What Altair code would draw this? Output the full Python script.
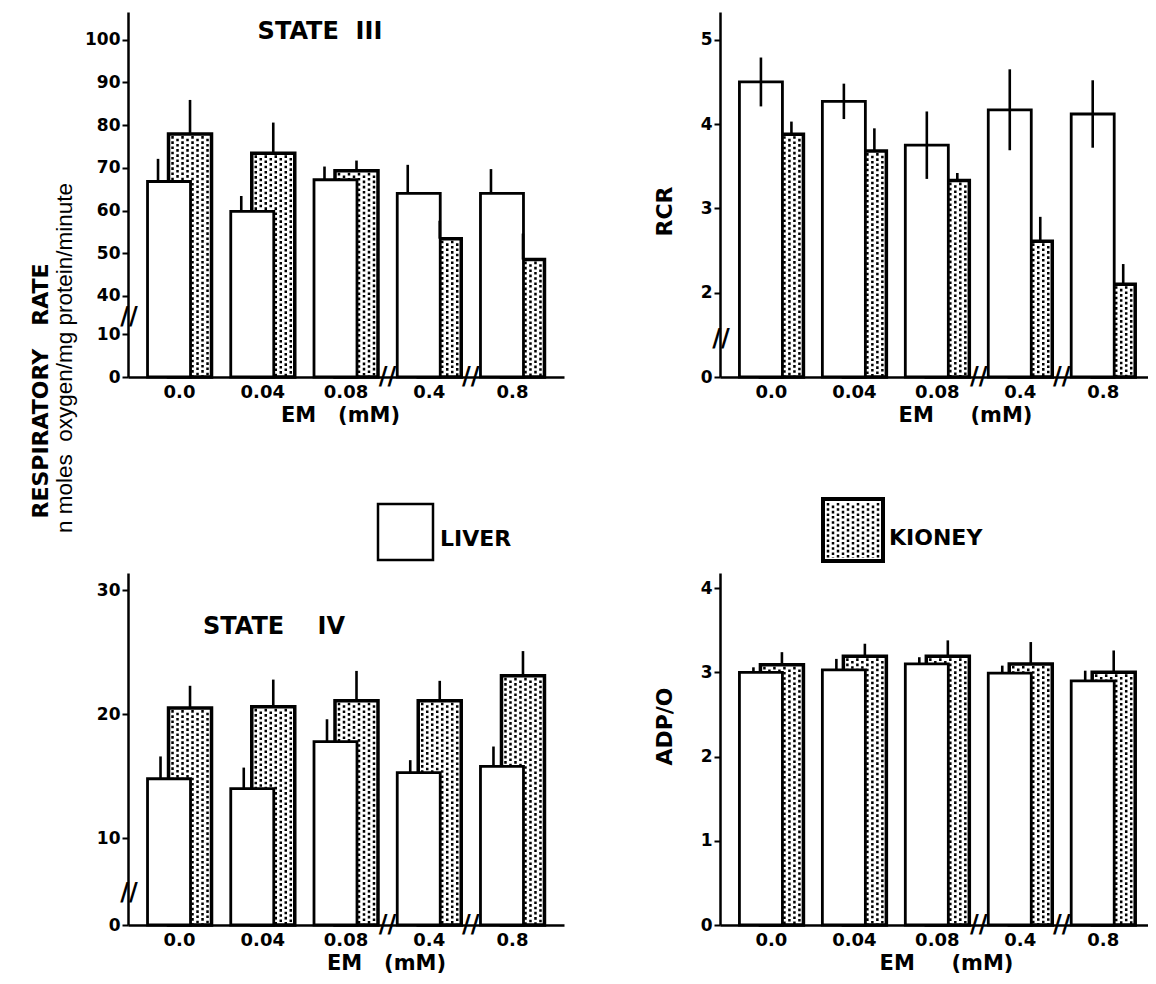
import altair as alt
import pandas as pd

NB = "\u00a0"

# ---------------- data ----------------
em_labels = ["0.0", "0.04", "0.08", "0.4", "0.8"]
x_breaks = ["0.4", "0.8"]

s3_liver = [66.8, 59.8, 67.2, 64.0, 64.0]
s3_liver_err = [5.3, 3.6, 3.1, 6.7, 5.7]
s3_kidney = [77.9, 73.4, 69.3, 53.4, 48.5]
s3_kidney_err = [8.0, 7.2, 2.4, 4.2, 6.1]

rcr_liver = [4.50, 4.27, 3.75, 4.17, 4.12]
rcr_liver_err = [0.29, 0.21, 0.40, 0.48, 0.40]
rcr_kidney = [3.88, 3.68, 3.33, 2.61, 2.10]
rcr_kidney_err = [0.15, 0.27, 0.09, 0.29, 0.24]

s4_liver = [14.8, 14.0, 17.8, 15.3, 15.8]
s4_liver_err = [1.8, 1.7, 1.8, 1.0, 1.6]
s4_kidney = [20.5, 20.6, 21.1, 21.1, 23.1]
s4_kidney_err = [1.8, 2.2, 2.4, 1.6, 2.0]

adp_liver = [3.00, 3.03, 3.10, 2.99, 2.90]
adp_liver_err = [0.06, 0.13, 0.08, 0.09, 0.12]
adp_kidney = [3.09, 3.19, 3.19, 3.10, 3.00]
adp_kidney_err = [0.15, 0.15, 0.19, 0.26, 0.26]

panel_titles = ["STATE" + NB * 2 + "III", "STATE" + NB * 4 + "IV"]
series_names = ["LIVER", "KIONEY"]
left_title = "RESPIRATORY" + NB * 3 + "RATE"
left_subtitle = "n moles" + NB * 2 + "oxygen/mg protein/minute"
x_title_left = "EM" + NB * 3 + "(mM)"
x_title_right = "EM" + NB * 5 + "(mM)"

FONT = "DejaVu Sans"
BAR_W = 43
HALF = 10.5
DOT_OFFSETS = [-7.0, -2.0, 3.0, 8.0, 13.0, 18.0, 23.0, 28.0]
NO_VIEW = alt.ViewBackground(strokeWidth=0, stroke="transparent")


def make_panel(liver, liver_err, kidney, kidney_err, *, width, height, top, thr, off,
               tick_vals, ytitle, xtitle, xtitle_x, ybreak_at, pad_outer, align,
               two_sided=False, liver_err_dx=-21.0, kidney_err_dx=10.5, ytitle_xy=None):
    df = pd.DataFrame({"em": em_labels, "liver": liver, "liver_err": liver_err,
                       "kidney": kidney, "kidney_err": kidney_err})

    def tf(e):
        return f"({e}) > {thr} ? ({e}) - {off} : ({e})"

    lo = "datum.liver - datum.liver_err" if two_sided else "datum.liver"
    base = alt.Chart(df).transform_calculate(
        lt=tf("datum.liver"), kt=tf("datum.kidney"),
        llo=tf(lo), lhi=tf("datum.liver + datum.liver_err"),
        khi=tf("datum.kidney + datum.kidney_err"))

    xaxis = alt.Axis(title=xtitle, labelAngle=0, ticks=False, tickSize=0,
                     domainWidth=2.5, domainColor="black", labelFont=FONT,
                     labelFontSize=18, labelFontWeight="bold", labelColor="black",
                     labelPadding=6, titleFont=FONT, titleFontSize=21,
                     titleFontWeight="bold", titleColor="black", titlePadding=3,
                     titleX=xtitle_x, zindex=1)
    xs = alt.Scale(domain=em_labels, paddingInner=0, paddingOuter=pad_outer, align=align)

    ykw = dict(values=tick_vals,
               labelExpr=f"datum.value > {thr} ? datum.value + {off} : datum.value",
               grid=False, tickSize=6, tickWidth=2, tickColor="black",
               domainWidth=2.5, domainColor="black", labelFont=FONT,
               labelFontSize=17, labelFontWeight="bold", labelColor="black",
               labelPadding=2, zindex=1)
    if ytitle:
        ykw.update(title=ytitle, titleFont=FONT, titleFontSize=22,
                   titleFontWeight="bold", titleColor="black",
                   titleX=ytitle_xy[0], titleY=ytitle_xy[1])
    else:
        ykw.update(title=None)
    yaxis = alt.Axis(**ykw)
    ys = alt.Scale(domain=[0, top], nice=False, zero=True)

    def X():
        return alt.X("em:N", scale=xs, axis=xaxis)

    def Y(f):
        return alt.Y(f"{f}:Q", scale=ys, axis=yaxis)

    layers = []
    layers.append(base.mark_bar(width=BAR_W, xOffset=HALF, fill="white", stroke="black",
                                strokeWidth=3.5).encode(x=X(), y=Y("kt")))
    for i, dx in enumerate(DOT_OFFSETS):
        layers.append(base.mark_rule(xOffset=dx, yOffset=2, strokeDash=[2.6, 2.6],
                                     strokeDashOffset=0 if i % 2 == 0 else 2.6,
                                     strokeWidth=2.5, color="black")
                      .encode(x=X(), y=Y("kt"), y2=alt.datum(0)))
    layers.append(base.mark_bar(width=BAR_W, xOffset=-HALF, fill="white", stroke="black",
                                strokeWidth=2.8).encode(x=X(), y=Y("lt")))
    layers.append(base.mark_rule(xOffset=liver_err_dx, strokeWidth=2.6, color="black")
                  .encode(x=X(), y=Y("llo"), y2="lhi:Q"))
    layers.append(base.mark_rule(xOffset=kidney_err_dx, strokeWidth=2.6, color="black")
                  .encode(x=X(), y=Y("kt"), y2="khi:Q"))

    brk = pd.DataFrame({"em": x_breaks})
    layers.append(alt.Chart(brk).mark_text(text="//", font=FONT, fontSize=24,
                                           fontWeight="bold", baseline="middle",
                                           align="center", color="black")
                  .encode(x=alt.X("em:N", scale=xs, axis=xaxis, bandPosition=0),
                          y=alt.value(height)))
    if ybreak_at is not None:
        layers.append(alt.Chart(pd.DataFrame({"b": [ybreak_at]}))
                      .mark_text(text="//", font=FONT, fontSize=24, fontWeight="bold",
                                 baseline="middle", align="center", color="black")
                      .encode(x=alt.value(1), y=alt.Y("b:Q", scale=ys, axis=yaxis)))
    return layers


def text_layer(label, x, y, size, weight="bold", angle=0, align="center", font=FONT):
    kw = dict(font=font, fontSize=size, fontWeight=weight, align=align,
              baseline="middle", color="black")
    if angle:
        kw["angle"] = angle
    return (alt.Chart(pd.DataFrame({"label": [label]})).mark_text(**kw)
            .encode(text="label:N", x=alt.value(x), y=alt.value(y)))


LW, RW = 436, 428
TH, BH = 365, 352

# ---- top-left : STATE III
tl_layers = make_panel(s3_liver, s3_liver_err, s3_kidney, s3_kidney_err,
                       width=LW, height=TH, top=85.5, thr=10, off=21,
                       tick_vals=[0, 10, 19, 29, 39, 49, 59, 69, 79], ytitle=None,
                       xtitle=x_title_left, xtitle_x=212, ybreak_at=14,
                       pad_outer=0.119, align=0.5, liver_err_dx=-21.5)
tl_layers.append(text_layer(panel_titles[0], 192, 20, 24))
tl_layers.append(text_layer(left_title, -87, 379, 22, angle=270))
tl_layers.append(text_layer(left_subtitle, -63, 346, 22.5, weight="normal", angle=270,
                            font="Liberation Sans"))
tl = alt.layer(*tl_layers).properties(width=LW, height=TH, view=NO_VIEW)

# ---- top-right : RCR
tr_layers = make_panel(rcr_liver, rcr_liver_err, rcr_kidney, rcr_kidney_err,
                       width=RW, height=TH, top=4.33, thr=0.5, off=1,
                       tick_vals=[0, 1, 2, 3, 4], ytitle="RCR",
                       xtitle=x_title_right, xtitle_x=245, ybreak_at=0.45,
                       pad_outer=0.08, align=0.75, two_sided=True,
                       liver_err_dx=-10.5, kidney_err_dx=20, ytitle_xy=(-44, 199))
tr = alt.layer(*tr_layers).properties(width=RW, height=TH, view=NO_VIEW)

# ---- bottom-left : STATE IV
bl_layers = make_panel(s4_liver, s4_liver_err, s4_kidney, s4_kidney_err,
                       width=LW, height=BH, top=28.4, thr=5, off=3,
                       tick_vals=[0, 7, 17, 27], ytitle=None,
                       xtitle=x_title_left, xtitle_x=258, ybreak_at=2.6,
                       pad_outer=0.119, align=0.5, liver_err_dx=-19)
bl_layers.append(text_layer(panel_titles[1], 146, 54, 24))
bl_layers.append(alt.Chart(pd.DataFrame({"s": [series_names[0]]}))
                 .mark_rect(fill="white", stroke="black", strokeWidth=2.5)
                 .encode(x=alt.value(250), x2=alt.value(305), y=alt.value(-69), y2=alt.value(-13)))
bl_layers.append(text_layer(series_names[0], 312, -34, 22, align="left"))
bl = alt.layer(*bl_layers).properties(width=LW, height=BH, view=NO_VIEW)

# ---- bottom-right : ADP/O
br_layers = make_panel(adp_liver, adp_liver_err, adp_kidney, adp_kidney_err,
                       width=RW, height=BH, top=4.18, thr=1000, off=0,
                       tick_vals=[0, 1, 2, 3, 4], ytitle="ADP/O",
                       xtitle=x_title_right, xtitle_x=226, ybreak_at=None,
                       pad_outer=0.08, align=0.75, liver_err_dx=-18,
                       ytitle_xy=(-44, 153))
br_layers.append(alt.Chart(pd.DataFrame({"s": [series_names[1]]}))
                 .mark_rect(fill="white", stroke="black", strokeWidth=4)
                 .encode(x=alt.value(103), x2=alt.value(163), y=alt.value(-74), y2=alt.value(-12)))
for i in range(11):
    br_layers.append(alt.Chart(pd.DataFrame({"s": [series_names[1]]}))
                     .mark_rule(strokeDash=[2.6, 2.6], strokeDashOffset=0 if i % 2 == 0 else 2.6,
                                strokeWidth=2.5, color="black")
                     .encode(x=alt.value(108 + 5 * i), y=alt.value(-70), y2=alt.value(-15)))
br_layers.append(text_layer(series_names[1], 169, -35, 22, align="left"))
br = alt.layer(*br_layers).properties(width=RW, height=BH, view=NO_VIEW)

chart = (alt.concat(tl, tr, bl, br, columns=2, spacing={"row": 196, "column": 156},
                    bounds="flush")
         .properties(padding={"left": 22, "top": 4, "right": 0, "bottom": 0})
         .configure_view(strokeWidth=0, stroke="transparent")
         .configure(background="white"))

chart.save("out.html", embed_options={"renderer": "svg", "actions": False})
